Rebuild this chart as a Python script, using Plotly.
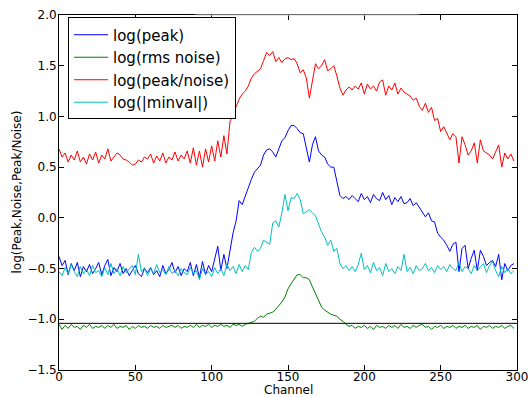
import plotly.graph_objects as go

channel = list(range(0, 300, 2))

log_peak_noise = [
    0.68, 0.60, 0.64, 0.55, 0.62, 0.57, 0.66, 0.55, 0.60, 0.53,
    0.63, 0.57, 0.65, 0.54, 0.62, 0.58, 0.68, 0.56, 0.60, 0.64,
    0.62, 0.58, 0.57, 0.55, 0.52, 0.53, 0.57, 0.55, 0.60, 0.58,
    0.63, 0.54, 0.61, 0.56, 0.64, 0.54, 0.60, 0.57, 0.65, 0.56,
    0.62, 0.58, 0.66, 0.54, 0.69, 0.52, 0.66, 0.50, 0.68, 0.55,
    0.71, 0.56, 0.76, 0.60, 0.81, 0.63, 0.95, 1.03, 1.10, 1.17,
    1.22, 1.25, 1.30, 1.38, 1.42, 1.45, 1.47, 1.55, 1.63, 1.60,
    1.64, 1.54, 1.58, 1.53, 1.57, 1.58, 1.56, 1.57, 1.52, 1.43,
    1.46, 1.38, 1.18, 1.35, 1.52, 1.47, 1.50, 1.56, 1.45, 1.47,
    1.50, 1.40, 1.28, 1.21, 1.26, 1.29, 1.26, 1.30, 1.27, 1.33,
    1.22, 1.32, 1.27, 1.30, 1.25, 1.34, 1.36, 1.21, 1.30, 1.26,
    1.33, 1.22, 1.28, 1.24, 1.22, 1.20, 1.16, 1.18, 1.10, 1.06,
    1.13, 1.04, 1.09, 0.96, 0.98, 0.85, 0.90, 0.84, 0.77, 0.83,
    0.80, 0.54, 0.80, 0.72, 0.62, 0.66, 0.74, 0.54, 0.77, 0.66,
    0.64, 0.62, 0.58, 0.65, 0.72, 0.50, 0.64, 0.58, 0.63, 0.56,
]

log_peak = [
    -0.38, -0.47, -0.42, -0.56, -0.45, -0.52, -0.44, -0.58, -0.48, -0.53,
    -0.46, -0.55, -0.50, -0.44, -0.56, -0.47, -0.41, -0.57, -0.49, -0.53,
    -0.45, -0.55, -0.50, -0.57, -0.52, -0.47, -0.55, -0.58, -0.50, -0.54,
    -0.49, -0.56, -0.52, -0.58, -0.47, -0.55, -0.51, -0.44, -0.54, -0.48,
    -0.57, -0.50, -0.53, -0.44, -0.57, -0.46, -0.59, -0.43, -0.56, -0.47,
    -0.53, -0.40, -0.28, -0.52, -0.36, -0.50, -0.30, -0.15, -0.03, 0.17,
    0.13, 0.22, 0.31, 0.38, 0.45, 0.48, 0.52, 0.62, 0.67, 0.68,
    0.65, 0.60, 0.68, 0.76, 0.79, 0.86, 0.91, 0.91, 0.88, 0.84,
    0.83, 0.70, 0.55, 0.72, 0.80, 0.66, 0.62, 0.60, 0.53, 0.50,
    0.50, 0.36, 0.22, 0.19, 0.21, 0.18, 0.22, 0.19, 0.16, 0.24,
    0.18, 0.21, 0.15, 0.23, 0.19, 0.17, 0.25, 0.18, 0.22, 0.13,
    0.20, 0.16, 0.21, 0.14, 0.15, 0.19, 0.12, 0.15, 0.10, 0.06,
    0.01, 0.05, -0.03, -0.04, -0.15, -0.19, -0.22, -0.27, -0.33, -0.26,
    -0.24, -0.53, -0.30, -0.27, -0.50, -0.40, -0.32, -0.52, -0.32, -0.38,
    -0.47, -0.44, -0.42, -0.48, -0.36, -0.61, -0.45, -0.52, -0.47, -0.45,
]

log_minval = [
    -0.53, -0.57, -0.49, -0.55, -0.46, -0.53, -0.58, -0.48, -0.55, -0.51,
    -0.57, -0.47, -0.54, -0.52, -0.58, -0.49, -0.56, -0.45, -0.55, -0.50,
    -0.57, -0.48, -0.54, -0.51, -0.47, -0.56, -0.36, -0.53, -0.49, -0.57,
    -0.50, -0.55, -0.46, -0.54, -0.51, -0.56, -0.48, -0.55, -0.52, -0.57,
    -0.50, -0.54, -0.56, -0.49, -0.55, -0.52, -0.61, -0.50, -0.56, -0.53,
    -0.58, -0.49, -0.55, -0.50, -0.57, -0.46, -0.52, -0.48, -0.55, -0.46,
    -0.53, -0.47, -0.51, -0.34, -0.29, -0.33, -0.30, -0.22, -0.24, -0.26,
    -0.05, -0.03, -0.09, 0.05, 0.23, 0.07, 0.20, 0.19, 0.24, 0.18,
    0.04, 0.06, 0.08, 0.05, 0.02, -0.06, -0.14, -0.19, -0.27, -0.22,
    -0.33, -0.30, -0.45, -0.50, -0.47, -0.52, -0.48, -0.53, -0.46, -0.35,
    -0.51, -0.47, -0.54, -0.44, -0.52, -0.49, -0.57, -0.45, -0.53, -0.50,
    -0.55, -0.48, -0.52, -0.36, -0.53, -0.49, -0.55, -0.47, -0.52, -0.50,
    -0.45, -0.52, -0.49, -0.54, -0.47, -0.51, -0.48, -0.53, -0.46, -0.50,
    -0.52, -0.44, -0.53, -0.48, -0.50, -0.55, -0.47, -0.52, -0.49, -0.45,
    -0.54, -0.47, -0.43, -0.52, -0.58, -0.48, -0.54, -0.50, -0.55, -0.52,
]

log_rms_noise = [
    -1.05, -1.10, -1.06, -1.09, -1.05, -1.08, -1.07, -1.10, -1.06, -1.08,
    -1.05, -1.09, -1.07, -1.08, -1.06, -1.09, -1.06, -1.08, -1.05, -1.09,
    -1.07, -1.08, -1.06, -1.10, -1.07, -1.09, -1.06, -1.08, -1.07, -1.09,
    -1.06, -1.08, -1.07, -1.09, -1.06, -1.08, -1.07, -1.06, -1.08, -1.06,
    -1.09, -1.07, -1.08, -1.06, -1.08, -1.05, -1.08, -1.06, -1.07, -1.05,
    -1.08, -1.06, -1.07, -1.05, -1.07, -1.06, -1.08, -1.05, -1.06, -1.05,
    -1.07, -1.05, -1.04, -1.03, -1.02, -0.99, -0.97, -0.98, -0.95, -0.94,
    -0.93, -0.90, -0.87, -0.83, -0.78, -0.70, -0.65, -0.60, -0.56, -0.56,
    -0.59, -0.59, -0.61, -0.68, -0.75, -0.81, -0.88, -0.91, -0.93, -0.95,
    -0.96, -0.97, -1.00, -1.02, -1.05, -1.07, -1.06, -1.09, -1.07, -1.08,
    -1.06, -1.09, -1.07, -1.10, -1.06, -1.08, -1.07, -1.09, -1.06, -1.08,
    -1.06, -1.09, -1.05, -1.08, -1.07, -1.09, -1.06, -1.08, -1.06, -1.05,
    -1.08, -1.07, -1.10, -1.07, -1.08, -1.06, -1.09, -1.07, -1.08, -1.06,
    -1.09, -1.07, -1.08, -1.06, -1.09, -1.07, -1.08, -1.06, -1.10, -1.07,
    -1.08, -1.06, -1.09, -1.07, -1.08, -1.06, -1.09, -1.07, -1.06, -1.09,
]

reference_level = -1.04

series = [
    ("log(peak)", log_peak, "#0000ff"),
    ("log(rms noise)", log_rms_noise, "#008000"),
    ("log(peak/noise)", log_peak_noise, "#ff0000"),
    ("log(|minval|)", log_minval, "#00bfbf"),
]

FONT = "DejaVu Sans, Bitstream Vera Sans, sans-serif"

fig = go.Figure()
for name, vals, color in series:
    fig.add_trace(go.Scatter(x=channel, y=vals, mode="lines", name=name,
                             line=dict(color=color, width=1)))

fig.add_shape(type="line", xref="paper", yref="y", x0=0, x1=1,
              y0=reference_level, y1=reference_level,
              line=dict(color="black", width=1), layer="above")
# faded part of the top frame seen in the reference
fig.add_shape(type="line", xref="x", yref="paper", x0=89.3, x1=236, y0=1, y1=1,
              line=dict(color="#d4d4d4", width=1), layer="above")

axis_common = dict(showline=True, linecolor="black", linewidth=1, mirror="allticks",
                   ticks="inside", ticklen=5, tickcolor="black", showgrid=False,
                   zeroline=False, automargin=False, ticklabeloverflow="allow",
                   tickfont=dict(family=FONT, size=12, color="black"))

fig.add_annotation(text="Channel", xref="paper", yref="paper", x=0.5, y=0,
                   xanchor="center", yanchor="middle", yshift=-20, showarrow=False,
                   font=dict(family=FONT, size=12, color="black"))
fig.add_annotation(text="log(Peak,Noise,Peak/Noise)", xref="paper", yref="paper",
                   x=0, y=0.5, xanchor="center", yanchor="middle", xshift=-43,
                   textangle=-90, showarrow=False,
                   font=dict(family=FONT, size=12, color="black"))

fig.update_layout(
    width=528, height=397,
    margin=dict(l=59, r=11, t=15, b=27),
    paper_bgcolor="white", plot_bgcolor="white",
    font=dict(family=FONT, size=12, color="black"),
    showlegend=True,
    legend=dict(x=0.0197, y=0.993, xanchor="left", yanchor="top",
                bordercolor="black", borderwidth=1, bgcolor="white",
                font=dict(family=FONT, size=15, color="black"),
                itemwidth=34, tracegroupgap=0),
    xaxis=dict(range=[0, 300], tick0=0, dtick=50, ticklabelstandoff=-4, **axis_common),
    yaxis=dict(range=[-1.5, 2.0], tick0=-1.5, dtick=0.5, tickformat=".1f",
               ticklabelstandoff=-1, **axis_common),
)

fig.write_html("out.html")
